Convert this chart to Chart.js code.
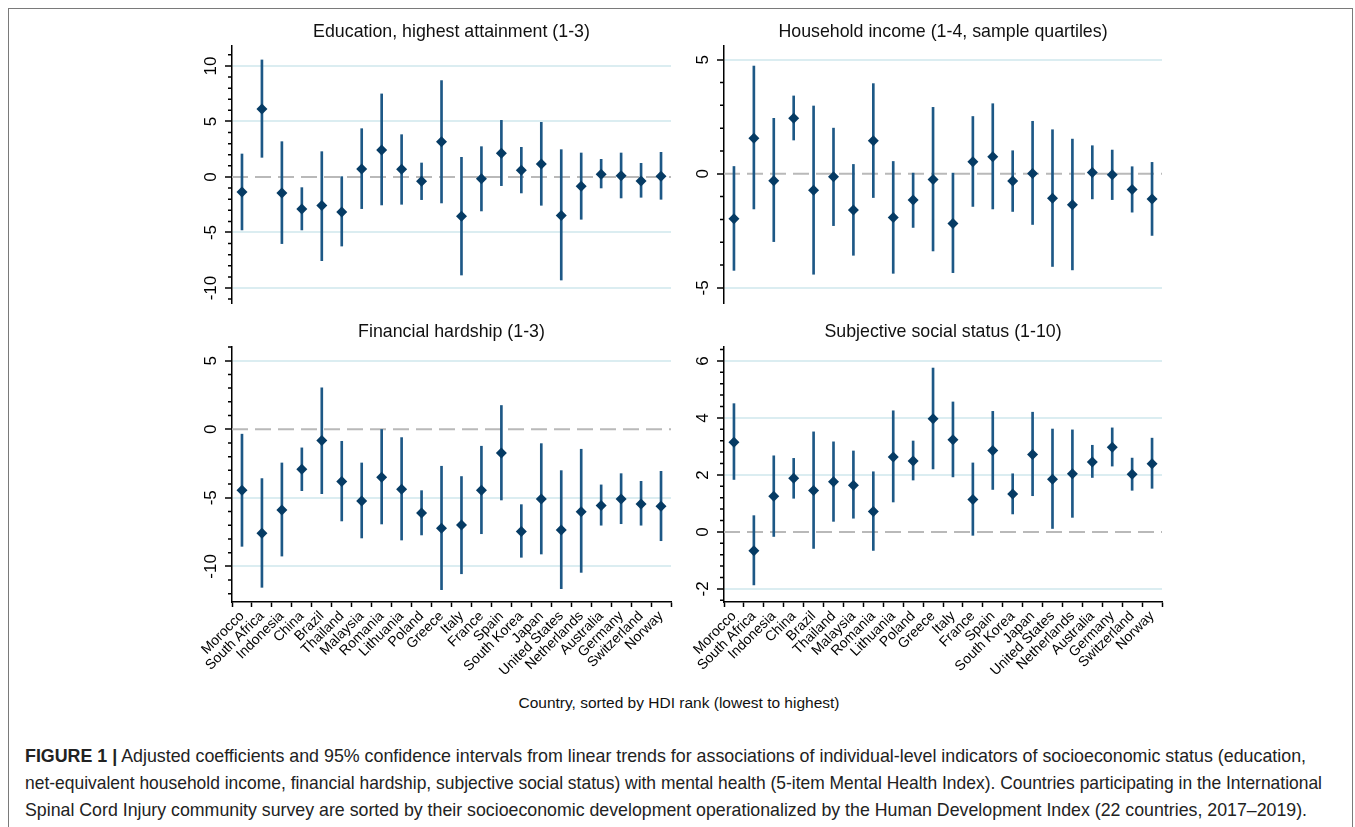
<!DOCTYPE html>
<html>
<head>
<meta charset="utf-8">
<script src="https://cdn.jsdelivr.net/npm/chart.js@4.4.1/dist/chart.umd.min.js"></script>
<style>
  body { margin: 0; background: #fff; font-family: 'Liberation Sans', Arial, sans-serif; }
  #page { position: relative; width: 1355px; height: 827px; overflow: hidden; }
  #frame { position: absolute; left: 8px; top: 8px; width: 1343px; height: 840px; border: 1.5px solid #7a7a7a; }
  .panel { position: absolute; }
  #xtitle { position: absolute; left: 0; width: 1358px; top: 694px; text-align: center; font-size: 15.5px; color: #111; }
  #caption { position: absolute; left: 25px; top: 742px; font-size: 18.5px; line-height: 27px; color: #222; }
  #caption .ln { display: block; white-space: nowrap; transform-origin: 0 0; width: max-content; }
</style>
</head>
<body>
<div id="page">
  <div id="frame"></div>
  <div class="panel" style="left:170px;top:10px;width:510px;height:300px"><canvas id="c1"></canvas></div>
  <div class="panel" style="left:662px;top:10px;width:510px;height:300px"><canvas id="c2"></canvas></div>
  <div class="panel" style="left:170px;top:310px;width:510px;height:370px"><canvas id="c3"></canvas></div>
  <div class="panel" style="left:662px;top:310px;width:510px;height:370px"><canvas id="c4"></canvas></div>
  <div id="xtitle">Country, sorted by HDI rank (lowest to highest)</div>
  <div id="caption">
    <span class="ln" data-w="1281"><b>FIGURE 1 |</b> Adjusted coefficients and 95% confidence intervals from linear trends for associations of individual-level indicators of socioeconomic status (education,</span>
    <span class="ln" data-w="1297">net-equivalent household income, financial hardship, subjective social status) with mental health (5-item Mental Health Index). Countries participating in the International</span>
    <span class="ln" data-w="1282">Spinal Cord Injury community survey are sorted by their socioeconomic development operationalized by the Human Development Index (22 countries, 2017–2019).</span>
  </div>
</div>
<script>
const countries = ['Morocco', 'South Africa', 'Indonesia', 'China', 'Brazil', 'Thailand', 'Malaysia', 'Romania',
  'Lithuania', 'Poland', 'Greece', 'Italy', 'France', 'Spain', 'South Korea', 'Japan', 'United States',
  'Netherlands', 'Australia', 'Germany', 'Switzerland', 'Norway'];

// education, highest attainment
const eduCoef = [-1.35, 6.13, -1.44, -2.88, -2.58, -3.15, 0.72, 2.43, 0.69, -0.39, 3.18, -3.54, -0.15, 2.13, 0.6, 1.17, -3.48, -0.84, 0.24, 0.12, -0.36, 0.06];
const eduLow = [-4.77, 1.77, -6.0, -4.77, -7.54, -6.22, -2.85, -2.52, -2.46, -2.04, -2.34, -8.83, -3.06, -0.78, -1.44, -2.55, -9.28, -3.81, -0.99, -1.89, -1.83, -2.01];
const eduHigh = [2.07, 10.54, 3.18, -0.96, 2.28, 0.03, 4.35, 7.48, 3.81, 1.26, 8.68, 1.77, 2.73, 5.1, 2.67, 4.92, 2.46, 2.16, 1.59, 2.16, 1.23, 2.22];

// household income
const incCoef = [-1.97, 1.56, -0.31, 2.43, -0.72, -0.13, -1.59, 1.45, -1.92, -1.15, -0.25, -2.18, 0.53, 0.75, -0.32, 0.01, -1.07, -1.36, 0.06, -0.04, -0.69, -1.1];
const incLow = [-4.23, -1.54, -2.97, 1.48, -4.4, -2.27, -3.57, -1.04, -4.36, -2.35, -3.38, -4.33, -1.43, -1.54, -1.65, -2.22, -4.06, -4.21, -1.1, -1.13, -1.68, -2.7];
const incHigh = [0.32, 4.72, 2.43, 3.41, 2.97, 2.0, 0.41, 3.95, 0.54, 0.03, 2.91, 0.03, 2.51, 3.07, 1.01, 2.3, 1.93, 1.52, 1.23, 1.04, 0.31, 0.5];

// financial hardship
const hardCoef = [-4.45, -7.59, -5.89, -2.92, -0.83, -3.82, -5.23, -3.5, -4.38, -6.11, -7.23, -6.98, -4.45, -1.73, -7.45, -5.09, -7.35, -6.01, -5.57, -5.09, -5.45, -5.62];
const hardLow = [-8.54, -11.53, -9.25, -4.48, -4.7, -6.69, -7.93, -6.91, -8.08, -7.71, -11.7, -10.54, -7.62, -5.16, -9.34, -9.1, -11.63, -10.44, -7.0, -6.89, -7.0, -8.13];
const hardHigh = [-0.36, -3.6, -2.46, -1.36, 3.02, -0.88, -2.46, -0.02, -0.61, -4.48, -2.7, -3.45, -1.24, 1.73, -5.5, -1.05, -3.02, -1.46, -4.06, -3.24, -3.8, -3.07];

// subjective social status
const sssCoef = [3.15, -0.66, 1.25, 1.88, 1.45, 1.76, 1.64, 0.72, 2.63, 2.49, 3.97, 3.23, 1.14, 2.86, 1.33, 2.72, 1.85, 2.04, 2.45, 2.97, 2.02, 2.39];
const sssLow = [1.84, -1.86, -0.16, 1.18, -0.58, 0.37, 0.48, -0.65, 1.05, 1.82, 2.21, 1.93, -0.12, 1.49, 0.63, 1.27, 0.12, 0.51, 1.91, 2.31, 1.46, 1.53];
const sssHigh = [4.5, 0.57, 2.67, 2.58, 3.51, 3.16, 2.84, 2.11, 4.25, 3.19, 5.75, 4.56, 2.42, 4.23, 2.04, 4.2, 3.61, 3.58, 3.04, 3.65, 2.59, 3.29];

Chart.defaults.font.family = "'Liberation Sans', Arial, sans-serif";
Chart.defaults.color = '#000';

const barColor = '#1d5886';
const dotColor = '#063b64';
const gridColor = '#dbedf1';

// dashed zero line and minor ticks, placed with the chart's own y scale
const extras = {
  id: 'extras',
  beforeDatasetsDraw(chart) {
    const {ctx, chartArea: a, scales: {y}} = chart;
    const y0 = y.getPixelForValue(0);
    ctx.save();
    ctx.strokeStyle = '#b9b9b9';
    ctx.lineWidth = 2;
    ctx.setLineDash([16, 7]);
    ctx.beginPath();
    ctx.moveTo(a.left, y0);
    ctx.lineTo(a.right, y0);
    ctx.stroke();
    ctx.restore();
  },
  afterDraw(chart, args, opts) {
    const {ctx, chartArea: a, scales: {y}} = chart;
    const step = opts.step, major = opts.major;
    ctx.save();
    ctx.strokeStyle = '#000';
    ctx.lineWidth = 1.5;
    ctx.beginPath();
    for (let i = Math.ceil(y.min / step - 1e-9); i * step <= y.max + 1e-9; i++) {
      const v = i * step;
      const r = v / major;
      if (Math.abs(r - Math.round(r)) < 1e-6) continue;
      const py = y.getPixelForValue(v);
      ctx.moveTo(a.left - 4, py);
      ctx.lineTo(a.left, py);
    }
    ctx.stroke();
    ctx.restore();
  }
};

function makePanel(id, title, coef, low, high, yMin, yMax, majors, minorStep, majorStep, labelPad, showX, padRight) {
  const bottomPad = showX ? 0 : 7;
  new Chart(document.getElementById(id), {
    type: 'bar',
    data: {
      labels: countries,
      datasets: [
        {
          type: 'line',
          data: coef,
          showLine: false,
          pointStyle: 'rectRot',
          pointRadius: 5.5,
          pointBackgroundColor: dotColor,
          pointBorderWidth: 0,
          order: 0
        },
        {
          data: countries.map((c, i) => [low[i], high[i]]),
          backgroundColor: barColor,
          borderWidth: 0,
          barThickness: 2,
          order: 1
        }
      ]
    },
    options: {
      responsive: true,
      maintainAspectRatio: false,
      animation: false,
      events: [],
      layout: { padding: { left: 0, right: padRight, top: 0, bottom: bottomPad } },
      plugins: {
        legend: { display: false },
        tooltip: { enabled: false },
        title: {
          display: true,
          fullSize: false,   // centre over the plot area, not the canvas
          text: title,
          color: '#111',
          font: { size: 17.8, weight: 'normal' },
          padding: { top: 11, bottom: showX ? 4.6 : 3.6 }
        },
        extras: { step: minorStep, major: majorStep }
      },
      scales: {
        x: {
          display: showX,
          offset: true,
          grid: { drawOnChartArea: false, drawTicks: true, tickLength: 5, tickColor: '#000', tickWidth: 1.5 },
          border: { display: true, color: '#000', width: 1.5 },
          ticks: { minRotation: 45, maxRotation: 45, autoSkip: false, padding: 1, font: { size: 14 }, color: '#000' },
          afterFit(s) { if (showX) s.height = 78; s.paddingLeft = 0; s.paddingRight = 0; }
        },
        y: {
          min: yMin,
          max: yMax,
          afterBuildTicks(s) { s.ticks = majors.map(v => ({ value: v })); },
          afterFit(s) { s.width = 62; s.paddingTop = 0; s.paddingBottom = 0; },
          grid: {
            color: c => (c.tick && c.tick.value === 0) ? 'rgba(0,0,0,0)' : gridColor,
            lineWidth: 2,
            drawTicks: true,
            tickLength: 7,
            tickColor: '#000',
            tickWidth: 1.5
          },
          border: { display: true, color: '#000', width: 1.5 },
          ticks: { minRotation: 90, maxRotation: 90, crossAlign: 'center', padding: labelPad, font: { size: 17 }, color: '#000' }
        }
      }
    },
    plugins: [extras]
  });
}

makePanel('c1', 'Education, highest attainment (1-3)', eduCoef, eduLow, eduHigh, -11.35, 11.8, [-10, -5, 0, 5, 10], 1, 5, 1.7, false, 9);
makePanel('c2', 'Household income (1-4, sample quartiles)', incCoef, incLow, incHigh, -5.66, 5.6, [-5, 0, 5], 1, 5, 6.4, false, 10);
makePanel('c3', 'Financial hardship (1-3)', hardCoef, hardLow, hardHigh, -12.6, 6.0, [-10, -5, 0, 5], 1, 5, 1.7, true, 9);
makePanel('c4', 'Subjective social status (1-10)', sssCoef, sssLow, sssHigh, -2.46, 6.49, [-2, 0, 2, 4, 6], 0.4, 2, 6.4, true, 10);

// fit the narrow caption lines to their measured widths
document.querySelectorAll('#caption .ln').forEach(el => {
  const target = +el.dataset.w;
  const w = el.getBoundingClientRect().width;
  el.style.transform = 'scaleX(' + (target / w) + ')';
});
</script>
</body>
</html>
